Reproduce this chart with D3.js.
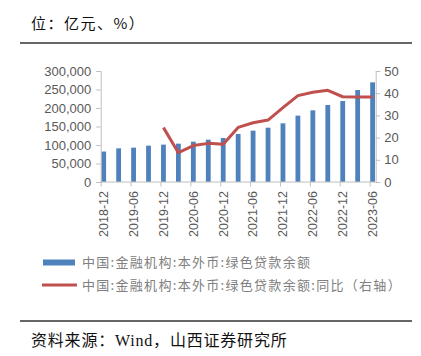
<!DOCTYPE html>
<html><head><meta charset="utf-8">
<script src="https://cdn.jsdelivr.net/npm/d3@7/dist/d3.min.js"></script>
<style>
html,body{margin:0;padding:0;background:#fff;}
svg{display:block;}
</style></head>
<body>
<svg id="c" width="421" height="356"></svg>
<script>
const categories = ["2018-12","2019-03","2019-06","2019-09","2019-12","2020-03","2020-06","2020-09","2020-12","2021-03","2021-06","2021-09","2021-12","2022-03","2022-06","2022-09","2022-12","2023-03","2023-06"];
const balance = [82300, 91000, 92800, 98200, 101000, 103600, 109000, 114400, 118900, 129700, 138700, 146800, 158600, 179300, 193700, 208100, 218900, 248600, 269400];
const yoy = [null, null, null, null, 24.5, 13.2, 16.4, 17.4, 17.0, 24.6, 26.7, 27.9, 33.5, 38.9, 40.4, 41.3, 38.4, 38.3, 38.3];
const xTickLabels = ["2018-12","2019-06","2019-12","2020-06","2020-12","2021-06","2021-12","2022-06","2022-12","2023-06"];
const leftTicks = [0, 50000, 100000, 150000, 200000, 250000, 300000];
const rightTicks = [0, 10, 20, 30, 40, 50];
const seriesNames = ["中国:金融机构:本外币:绿色贷款余额", "中国:金融机构:本外币:绿色贷款余额:同比（右轴）"];
const titleText = "位：亿元、%）";
const sourceText = "资料来源：Wind，山西证券研究所";

const svg = d3.select("#c");
const axisColor = "#bfbfbf", labelColor = "#595959";
const barColor = "#4f81bd", lineColor = "#c0504d";
const plotL = 100.7, plotR = 375.7, plotT = 71, plotB = 182;

const x = d3.scalePoint().domain(categories).range([103.7, 372.6]);
const yL = d3.scaleLinear().domain([0, 300000]).range([plotB, plotT]);
const yR = d3.scaleLinear().domain([0, 50]).range([plotB, plotT]);

// title
svg.append("text").attr("x", 31).attr("y", 29).attr("font-family", "'Noto Sans CJK SC'")
  .attr("font-size", 15).attr("fill", "#111").attr("letter-spacing", 1.5).text(titleText);
svg.append("line").attr("x1", 20).attr("x2", 412).attr("y1", 43).attr("y2", 43)
  .attr("stroke", "#333").attr("stroke-width", 1.3);

// bars
const bw = 4.8;
svg.append("g").selectAll("rect").data(balance).join("rect")
  .attr("x", (d, i) => x(categories[i]) - bw / 2)
  .attr("y", d => yL(d))
  .attr("width", bw)
  .attr("height", d => yL(0) - yL(d))
  .attr("fill", barColor);

// axes
const fontAx = "'Liberation Sans', Arial, sans-serif";
const gl = svg.append("g").attr("transform", `translate(${plotL},0)`)
  .call(d3.axisLeft(yL).tickValues(leftTicks).tickFormat(d3.format(",")).tickSizeOuter(0).tickSize(4.5).tickPadding(5));
const gr = svg.append("g").attr("transform", `translate(${plotR},0)`)
  .call(d3.axisRight(yR).tickValues(rightTicks).tickSizeOuter(0).tickSize(4.5).tickPadding(4));
const gb = svg.append("g").attr("transform", `translate(0,${plotB})`)
  .call(d3.axisBottom(x).tickValues(xTickLabels).tickSizeOuter(0).tickSize(4.5).tickFormat(""));
gb.select(".domain").attr("d", `M${plotL},0H${plotR}`);
gb.selectAll(".tick line").attr("transform", "translate(-3,0)");
[gl, gr, gb].forEach(g => {
  g.selectAll(".domain,.tick line").attr("stroke", axisColor).attr("stroke-width", 1);
  g.selectAll("text").attr("fill", labelColor).attr("font-family", fontAx).attr("font-size", 13);
});
// x labels rotated
svg.append("g").selectAll("text").data(xTickLabels).join("text")
  .attr("transform", d => `translate(${x(d)},${plotB + 9}) rotate(-90)`)
  .attr("text-anchor", "end").attr("dy", "0.35em")
  .attr("font-family", fontAx).attr("font-size", 12.5).attr("fill", labelColor)
  .text(d => d);

// line
const line = d3.line().defined(d => d != null).x((d, i) => x(categories[i])).y(d => yR(d));
svg.append("path").datum(yoy).attr("d", line).attr("fill", "none")
  .attr("stroke", lineColor).attr("stroke-width", 3).attr("stroke-linejoin", "round");

// legend
const lg = svg.append("g");
lg.append("rect").attr("x", 43).attr("y", 259.5).attr("width", 32).attr("height", 6).attr("fill", barColor);
lg.append("line").attr("x1", 42).attr("x2", 77).attr("y1", 285).attr("y2", 285)
  .attr("stroke", lineColor).attr("stroke-width", 3);
lg.selectAll("text").data(seriesNames).join("text")
  .attr("x", 82).attr("y", (d, i) => 267 + i * 23)
  .attr("font-family", "'Noto Sans CJK SC'").attr("font-size", 13).attr("letter-spacing", 1.3)
  .attr("fill", "#808080").text(d => d);

// source
svg.append("line").attr("x1", 20).attr("x2", 412).attr("y1", 321).attr("y2", 321)
  .attr("stroke", "#333").attr("stroke-width", 1.3);
svg.append("text").attr("x", 31).attr("y", 346)
  .attr("font-family", "'Liberation Serif', 'Noto Sans CJK SC', serif").attr("font-size", 16)
  .attr("letter-spacing", 0.8)
  .attr("fill", "#111").text(sourceText);
</script>
</body></html>
